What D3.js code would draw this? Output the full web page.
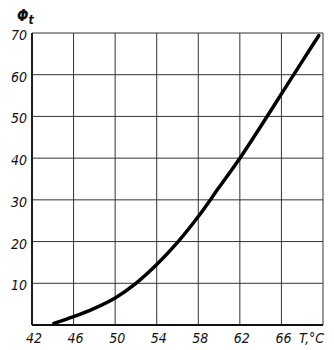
<!DOCTYPE html>
<html>
<head>
<meta charset="utf-8">
<script src="https://cdn.jsdelivr.net/npm/d3@7"></script>
<style>
  body { margin: 0; background: #fff; }
  text { font-family: "Liberation Sans Narrow", "DejaVu Sans Condensed", sans-serif; font-style: italic; fill: #111; }
</style>
</head>
<body>
<div id="chart"></div>
<script>
// temperature, deg C
const temps = [44.1, 46, 48, 50, 52, 54, 56, 58, 60, 62, 64, 66, 68, 69.6];
// Phi_t values
const phi = [0.4, 2, 4, 6.5, 10, 14.5, 19.8, 26, 33, 40, 47.6, 55.4, 63.2, 69.4];

const xTicks = [42, 46, 50, 54, 58, 62, 66];
const xGrid = [42, 46, 50, 54, 58, 62, 66, 70];
const yTicks = [10, 20, 30, 40, 50, 60, 70];
const yGrid = [0, 10, 20, 30, 40, 50, 60, 70];

const width = 334, height = 350;
const margin = { top: 33, right: 11, bottom: 25, left: 32 };

const svg = d3.select("#chart").append("svg")
  .attr("width", width)
  .attr("height", height);

const x = d3.scaleLinear()
  .domain([42, 70])
  .range([margin.left, width - margin.right]);

const y = d3.scaleLinear()
  .domain([0, 70])
  .range([height - margin.bottom, margin.top]);

// grid
svg.append("g")
  .selectAll("line")
  .data(xGrid)
  .join("line")
  .attr("x1", d => x(d)).attr("x2", d => x(d))
  .attr("y1", y(0)).attr("y2", y(70))
  .attr("stroke", "#333")
  .attr("stroke-width", 1);

svg.append("g")
  .selectAll("line")
  .data(yGrid)
  .join("line")
  .attr("x1", x(42)).attr("x2", x(70))
  .attr("y1", d => y(d)).attr("y2", d => y(d))
  .attr("stroke", "#333")
  .attr("stroke-width", 1);

// main axes a bit heavier
svg.append("line")
  .attr("x1", x(42)).attr("x2", x(42))
  .attr("y1", y(0)).attr("y2", y(70))
  .attr("stroke", "#111").attr("stroke-width", 1.8);
svg.append("line")
  .attr("x1", x(42)).attr("x2", x(70))
  .attr("y1", y(0)).attr("y2", y(0))
  .attr("stroke", "#111").attr("stroke-width", 1.8);

// tick labels
svg.append("g")
  .selectAll("text")
  .data(xTicks)
  .join("text")
  .attr("x", d => x(d) + 2)
  .attr("y", height - 7)
  .attr("text-anchor", "middle")
  .attr("font-size", 14)
  .text(d => d);

svg.append("g")
  .selectAll("text")
  .data(yTicks)
  .join("text")
  .attr("x", margin.left - 5)
  .attr("y", d => y(d) + 7)
  .attr("text-anchor", "end")
  .attr("font-size", 14)
  .text(d => d);

svg.append("text")
  .attr("x", width - 10)
  .attr("y", height - 7)
  .attr("text-anchor", "end")
  .attr("font-size", 14)
  .text("T,°C");

const title = svg.append("text")
  .attr("x", 17)
  .attr("y", 21)
  .attr("font-size", 15)
  .attr("font-weight", "bold");
title.append("tspan").text("Φ");
title.append("tspan").attr("font-size", 12).attr("dy", 3).text("t");

// curve
const line = d3.line()
  .x((d, i) => x(temps[i]))
  .y(d => y(d))
  .curve(d3.curveCatmullRom);

svg.append("path")
  .datum(phi)
  .attr("fill", "none")
  .attr("stroke", "#000")
  .attr("stroke-width", 3.5)
  .attr("stroke-linecap", "round")
  .attr("d", line);
</script>
</body>
</html>
